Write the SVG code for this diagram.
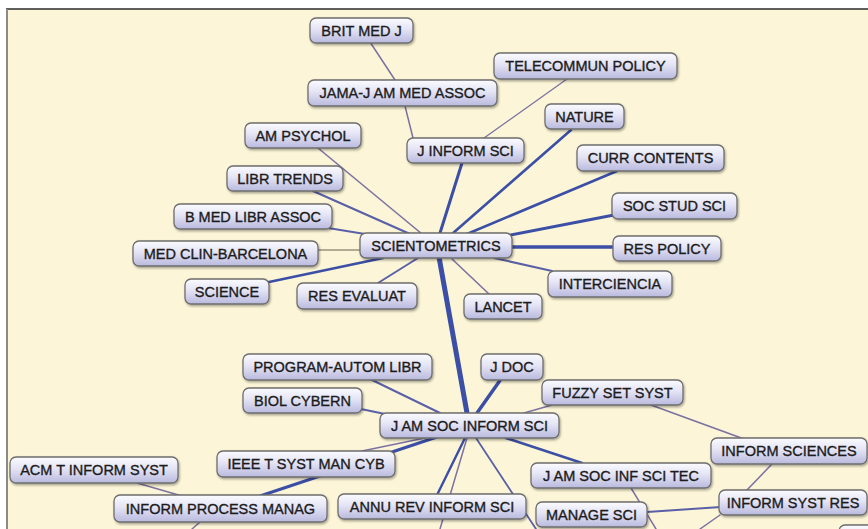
<svg xmlns="http://www.w3.org/2000/svg" width="868" height="529" viewBox="0 0 868 529">
<defs>
<linearGradient id="ng" x1="0" y1="0" x2="0" y2="1">
<stop offset="0" stop-color="#fbfbff"/>
<stop offset="0.45" stop-color="#e4e4f5"/>
<stop offset="1" stop-color="#b9b9de"/>
</linearGradient>
<filter id="sh" x="-10%" y="-30%" width="120%" height="170%">
<feDropShadow dx="1" dy="1.5" stdDeviation="1" flood-color="#000" flood-opacity="0.35"/>
</filter>
</defs>
<style>
.n rect{fill:url(#ng);stroke:#6e6e6e;stroke-width:1.3;filter:url(#sh)}
.n text{font-family:"Liberation Sans",Arial,sans-serif;font-size:14.5px;fill:#1c1c1c;stroke:#1c1c1c;stroke-width:0.35;text-anchor:middle}
.e line{stroke-linecap:round}
.b{stroke:#3c4fa6}
.m{stroke:#5a60a8}
.p{stroke:#7c72a2}
.t{stroke:#b3aa94}
</style>
<rect x="0" y="0" width="868" height="529" fill="#ffffff"/>
<rect x="7" y="9" width="861" height="520" fill="#fcf5d7"/>
<line x1="6" y1="9" x2="868" y2="9" stroke="#2a2a2a" stroke-width="1.5"/>
<line x1="7" y1="9" x2="7" y2="529" stroke="#8a8a8a" stroke-width="2"/>
<g id="connectors" class="e">
<line class="p" x1="370" y1="42" x2="395" y2="80" stroke-width="1.5"/>
<line class="p" x1="405" y1="106" x2="413" y2="138" stroke-width="1.5"/>
<line class="p" x1="567" y1="79" x2="484" y2="138" stroke-width="1.3"/>
<line class="b" x1="462" y1="163" x2="440" y2="233" stroke-width="3"/>
<line class="b" x1="571" y1="130" x2="452" y2="234" stroke-width="2.6"/>
<line class="b" x1="617" y1="171" x2="467" y2="234" stroke-width="2.6"/>
<line class="b" x1="614" y1="215" x2="505" y2="236" stroke-width="3"/>
<line class="b" x1="512" y1="247" x2="613" y2="247" stroke-width="3.5"/>
<line class="m" x1="494" y1="258" x2="552" y2="271" stroke-width="2"/>
<line class="p" x1="452" y1="259" x2="489" y2="294" stroke-width="1.6"/>
<line class="m" x1="418" y1="258" x2="378" y2="283" stroke-width="2"/>
<line class="b" x1="383" y1="258" x2="269" y2="282" stroke-width="2.6"/>
<line class="t" x1="318" y1="250" x2="360" y2="250" stroke-width="2"/>
<line class="m" x1="328" y1="228" x2="365" y2="234" stroke-width="2"/>
<line class="m" x1="313" y1="191" x2="410" y2="234" stroke-width="2.2"/>
<line class="p" x1="318" y1="148" x2="422" y2="234" stroke-width="1.6"/>
<line class="b" x1="439" y1="257" x2="467" y2="413" stroke-width="5"/>
<line class="b" x1="501" y1="379" x2="477" y2="413" stroke-width="3.5"/>
<line class="m" x1="370" y1="379" x2="440" y2="413" stroke-width="2"/>
<line class="m" x1="361" y1="409" x2="385" y2="414" stroke-width="2"/>
<line class="p" x1="552" y1="405" x2="524" y2="413" stroke-width="1.5"/>
<line class="p" x1="651" y1="405" x2="744" y2="439" stroke-width="1.8"/>
<line class="p" x1="772" y1="464" x2="747" y2="490" stroke-width="1.5"/>
<line class="b" x1="506" y1="438" x2="582" y2="463" stroke-width="2.6"/>
<line class="p" x1="362" y1="451" x2="425" y2="438" stroke-width="1.5"/>
<line class="b" x1="260" y1="496" x2="440" y2="436" stroke-width="3"/>
<line class="p" x1="137" y1="483" x2="182" y2="496" stroke-width="1.5"/>
<line class="p" x1="200" y1="522" x2="192" y2="529" stroke-width="1.5"/>
<line class="b" x1="465" y1="438" x2="437" y2="495" stroke-width="2.4"/>
<line class="p" x1="467" y1="438" x2="440" y2="529" stroke-width="1.5"/>
<line class="m" x1="476" y1="438" x2="536" y2="529" stroke-width="1.8"/>
<line class="p" x1="631" y1="488" x2="656" y2="529" stroke-width="1.5"/>
<line class="m" x1="647" y1="512" x2="721" y2="507" stroke-width="2"/>
<line class="p" x1="720" y1="515" x2="700" y2="529" stroke-width="1.5"/>
</g>
<g id="n1" class="n"><rect x="310" y="18" width="103" height="25" rx="6"/><text x="361.5" y="35.5">BRIT MED J</text></g>
<g id="n2" class="n"><rect x="308" y="80" width="189" height="26" rx="6"/><text x="402.5" y="98">JAMA-J AM MED ASSOC</text></g>
<g id="n3" class="n"><rect x="494" y="53" width="183" height="26" rx="6"/><text x="585.5" y="71">TELECOMMUN POLICY</text></g>
<g id="n4" class="n"><rect x="545" y="104" width="79" height="25" rx="6"/><text x="584.5" y="121.5">NATURE</text></g>
<g id="n5" class="n"><rect x="407" y="138" width="117" height="25" rx="6"/><text x="465.5" y="155.5">J INFORM SCI</text></g>
<g id="n6" class="n"><rect x="245" y="123" width="116" height="25" rx="6"/><text x="303" y="140.5">AM PSYCHOL</text></g>
<g id="n7" class="n"><rect x="577" y="145" width="147" height="26" rx="6"/><text x="650.5" y="163">CURR CONTENTS</text></g>
<g id="n8" class="n"><rect x="227" y="166" width="116" height="25" rx="6"/><text x="285" y="183.5">LIBR TRENDS</text></g>
<g id="n9" class="n"><rect x="174" y="204" width="158" height="25" rx="6"/><text x="253" y="221.5">B MED LIBR ASSOC</text></g>
<g id="n10" class="n"><rect x="133" y="241" width="185" height="25" rx="6"/><text x="225.5" y="258.5">MED CLIN-BARCELONA</text></g>
<g id="n11" class="n"><rect x="185" y="279" width="84" height="25" rx="6"/><text x="227" y="296.5">SCIENCE</text></g>
<g id="n12" class="n"><rect x="297" y="283" width="120" height="26" rx="6"/><text x="357" y="301">RES EVALUAT</text></g>
<g id="n13" class="n"><rect x="360" y="233" width="152" height="25" rx="6"/><text x="436" y="250.5">SCIENTOMETRICS</text></g>
<g id="n14" class="n"><rect x="612" y="193" width="125" height="26" rx="6"/><text x="674.5" y="211">SOC STUD SCI</text></g>
<g id="n15" class="n"><rect x="613" y="236" width="108" height="25" rx="6"/><text x="667" y="253.5">RES POLICY</text></g>
<g id="n16" class="n"><rect x="548" y="271" width="124" height="26" rx="6"/><text x="610" y="289">INTERCIENCIA</text></g>
<g id="n17" class="n"><rect x="464" y="294" width="78" height="25" rx="6"/><text x="503" y="311.5">LANCET</text></g>
<g id="n18" class="n"><rect x="243" y="354" width="189" height="26" rx="6"/><text x="337.5" y="372">PROGRAM-AUTOM LIBR</text></g>
<g id="n19" class="n"><rect x="481" y="354" width="62" height="26" rx="6"/><text x="512" y="372">J DOC</text></g>
<g id="n20" class="n"><rect x="542" y="380" width="141" height="25" rx="6"/><text x="612.5" y="397.5">FUZZY SET SYST</text></g>
<g id="n21" class="n"><rect x="243" y="388" width="119" height="25" rx="6"/><text x="302.5" y="405.5">BIOL CYBERN</text></g>
<g id="n22" class="n"><rect x="380" y="413" width="179" height="25" rx="6"/><text x="469.5" y="430.5">J AM SOC INFORM SCI</text></g>
<g id="n23" class="n"><rect x="217" y="451" width="178" height="26" rx="6"/><text x="306" y="469">IEEE T SYST MAN CYB</text></g>
<g id="n24" class="n"><rect x="10" y="457" width="168" height="26" rx="6"/><text x="94" y="475">ACM T INFORM SYST</text></g>
<g id="n25" class="n"><rect x="711" y="438" width="156" height="26" rx="6"/><text x="789" y="456">INFORM SCIENCES</text></g>
<g id="n26" class="n"><rect x="531" y="463" width="180" height="25" rx="6"/><text x="621" y="480.5">J AM SOC INF SCI TEC</text></g>
<g id="n27" class="n"><rect x="114" y="495" width="213" height="27" rx="6"/><text x="220.5" y="513.5">INFORM PROCESS MANAG</text></g>
<g id="n28" class="n"><rect x="338" y="494" width="188" height="25" rx="6"/><text x="432" y="511.5">ANNU REV INFORM SCI</text></g>
<g id="n29" class="n"><rect x="536" y="502" width="111" height="25" rx="6"/><text x="591.5" y="519.5">MANAGE SCI</text></g>
<g id="n30" class="n"><rect x="719" y="490" width="148" height="25" rx="6"/><text x="793" y="507.5">INFORM SYST RES</text></g>
<g id="n31" class="n"><rect x="839" y="525" width="60" height="25" rx="6"/></g>
</svg>
